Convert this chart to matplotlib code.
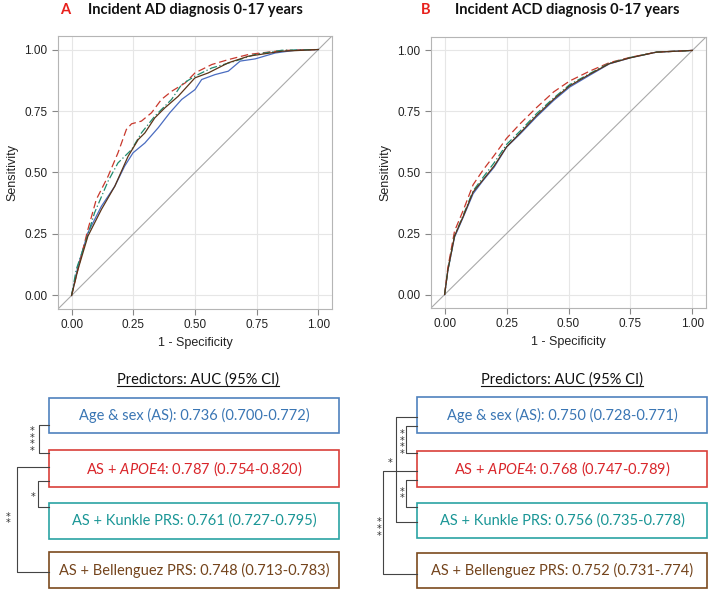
import matplotlib
matplotlib.use("Agg")
import matplotlib.pyplot as plt
from matplotlib.patches import Rectangle

plt.rcParams['font.family'] = ['Liberation Sans', 'DejaVu Sans']
plt.rcParams['mathtext.fontset'] = 'custom'
plt.rcParams['mathtext.rm'] = 'Lato'
plt.rcParams['mathtext.it'] = 'Lato:italic'

# ROC curves, panel A (fpr, tpr)
a_as_fpr = [0, 0.026, 0.066, 0.121, 0.175, 0.215, 0.249, 0.297, 0.351, 0.398, 0.446, 0.5, 0.527, 0.581, 0.635, 0.683, 0.744, 0.825, 0.906, 1]
a_as_tpr = [0, 0.119, 0.255, 0.363, 0.444, 0.526, 0.58, 0.62, 0.682, 0.743, 0.797, 0.837, 0.878, 0.898, 0.912, 0.953, 0.962, 0.986, 0.997, 1]
a_apoe_fpr = [0, 0.019, 0.066, 0.10, 0.148, 0.188, 0.222, 0.243, 0.283, 0.324, 0.364, 0.405, 0.46, 0.5, 0.568, 0.635, 0.717, 0.852, 1]
a_apoe_tpr = [0, 0.079, 0.268, 0.39, 0.485, 0.58, 0.675, 0.698, 0.709, 0.743, 0.797, 0.83, 0.864, 0.905, 0.939, 0.959, 0.98, 0.996, 1]
a_kun_fpr = [0, 0.019, 0.06, 0.093, 0.148, 0.188, 0.243, 0.283, 0.337, 0.405, 0.446, 0.5, 0.568, 0.663, 0.744, 0.852, 1]
a_kun_tpr = [0, 0.106, 0.228, 0.336, 0.465, 0.539, 0.593, 0.661, 0.729, 0.797, 0.858, 0.892, 0.925, 0.953, 0.98, 0.997, 1]
a_bel_fpr = [0, 0.026, 0.066, 0.121, 0.175, 0.229, 0.27, 0.297, 0.337, 0.378, 0.432, 0.5, 0.554, 0.635, 0.717, 0.852, 1]
a_bel_tpr = [0, 0.106, 0.241, 0.35, 0.444, 0.566, 0.634, 0.661, 0.722, 0.763, 0.81, 0.885, 0.905, 0.946, 0.973, 0.993, 1]

# ROC curves, panel B
b_fpr = [0, 0.013, 0.04, 0.075, 0.115, 0.155, 0.2, 0.25, 0.305, 0.37, 0.44, 0.505, 0.585, 0.665, 0.75, 0.855, 1]
b_as_tpr = [0, 0.098, 0.235, 0.317, 0.413, 0.467, 0.522, 0.604, 0.658, 0.727, 0.795, 0.85, 0.898, 0.945, 0.97, 0.993, 1]
b_apoe_tpr = [0, 0.11, 0.26, 0.345, 0.45, 0.51, 0.57, 0.64, 0.70, 0.765, 0.83, 0.875, 0.915, 0.95, 0.972, 0.993, 1]
b_kun_tpr = [0, 0.10, 0.24, 0.325, 0.425, 0.48, 0.54, 0.615, 0.67, 0.74, 0.805, 0.86, 0.905, 0.948, 0.971, 0.993, 1]
b_bel_tpr = [0, 0.10, 0.24, 0.32, 0.42, 0.47, 0.527, 0.605, 0.662, 0.732, 0.80, 0.855, 0.902, 0.946, 0.97, 0.993, 1]

ticks = [0, 0.25, 0.5, 0.75, 1.0]
tick_labels = ["0.00", "0.25", "0.50", "0.75", "1.00"]

labels_a = ["Age & sex (AS): 0.736 (0.700-0.772)",
            r"AS + $\mathit{APOE4}$: 0.787 (0.754-0.820)",
            "AS + Kunkle PRS: 0.761 (0.727-0.795)",
            "AS + Bellenguez PRS: 0.748 (0.713-0.783)"]
labels_b = ["Age & sex (AS): 0.750 (0.728-0.771)",
            r"AS + $\mathit{APOE4}$: 0.768 (0.747-0.789)",
            "AS + Kunkle PRS: 0.756 (0.735-0.778)",
            "AS + Bellenguez PRS: 0.752 (0.731-.774)"]

line_cols = ['#4a6cc0', '#c8382c', '#1f8a6e', '#5a3418']
box_edge = ['#4f81bd', '#d9403a', '#2aa3a3', '#7b4a1e']
box_text = ['#3a76b4', '#d9262b', '#1a9696', '#74441c']

fig = plt.figure(figsize=(7.08, 5.9), dpi=100)


def roc_panel(rect, curves):
    ax = fig.add_axes(rect)
    ax.set_xlim(-0.055, 1.055)
    ax.set_ylim(-0.055, 1.055)
    ax.axline((0, 0), slope=1, color='#aaaaaa', lw=0.8, zorder=1)
    styles = ['-', (0, (6, 3)), (0, (6, 2, 1, 2)), '-']
    for (fx, ty), c, ls in zip(curves, line_cols, styles):
        ax.plot(fx, ty, color=c, ls=ls, lw=0.9, zorder=3)
    ax.set_xticks(ticks)
    ax.set_xticklabels(tick_labels)
    ax.set_yticks(ticks)
    ax.set_yticklabels(tick_labels)
    ax.grid(True, color='#e6e6e6', lw=0.8)
    ax.set_axisbelow(True)
    for s in ax.spines.values():
        s.set_color('#b5b5b5')
    ax.tick_params(colors='#888888', labelcolor='#222222', labelsize=8.5, length=4)
    ax.set_xlabel("1 - Specificity", fontsize=9, color='#222222', labelpad=4)
    ax.set_ylabel("Sensitivity", fontsize=9, color='#222222', labelpad=4)
    return ax


roc_panel([58 / 708, 1 - 309 / 590, 274 / 708, 273 / 590],
          [(a_as_fpr, a_as_tpr), (a_apoe_fpr, a_apoe_tpr), (a_kun_fpr, a_kun_tpr), (a_bel_fpr, a_bel_tpr)])
roc_panel([431 / 708, 1 - 308 / 590, 275 / 708, 271 / 590],
          [(b_fpr, b_as_tpr), (b_fpr, b_apoe_tpr), (b_fpr, b_kun_tpr), (b_fpr, b_bel_tpr)])

# overlay in pixel coordinates for titles, boxes and brackets
ov = fig.add_axes([0, 0, 1, 1])
ov.set_xlim(0, 708)
ov.set_ylim(590, 0)
ov.axis('off')
ov.patch.set_visible(False)

tfont = dict(family=['Lato', 'DejaVu Sans'], fontweight='bold', fontsize=10.5, va='center')
ov.text(60, 10, "A", color='#e8201c', ha='left', **tfont)
ov.text(195, 10, "Incident AD diagnosis 0-17 years", color='#111111', ha='center', **tfont)
ov.text(421, 10, "B", color='#e8201c', ha='left', **tfont)
ov.text(567, 10, "Incident ACD diagnosis 0-17 years", color='#111111', ha='center', **tfont)


def box_panel(x0, x1, ys, labels, head_x, brackets):
    t = ov.text(head_x, 380, "Predictors: AUC (95% CI)", family=['Lato', 'DejaVu Sans'],
                fontsize=10.5, ha='center', va='center', color='#111111')
    t._underline = True
    for (y0, y1), lab, ec, tc in zip(ys, labels, box_edge, box_text):
        ov.add_patch(Rectangle((x0, y0), x1 - x0, y1 - y0, fill=False, ec=ec, lw=1.2))
        ov.text((x0 + x1) / 2, (y0 + y1) / 2, lab, family=['Lato', 'DejaVu Sans'],
                fontsize=10.5, color=tc, ha='center', va='center')
    for bx, ya, yb, n, sx, sy in brackets:
        ov.plot([x0, bx, bx, x0], [ya, ya, yb, yb], color='#444444', lw=0.8)
        ov.text(sx, sy, "\n".join(["*"] * n), fontsize=7, linespacing=0.62,
                ha='center', va='center', color='#333333', family='DejaVu Sans')


box_panel(49, 339, [(398, 433), (450, 487), (503, 539), (552, 588)], labels_a, 198,
          [(39, 425, 453, 4, 32, 441),
           (38, 481, 507, 1, 33, 497),
           (17, 467, 572, 2, 8, 520)])
box_panel(417, 707, [(397, 433), (451, 487), (503, 538), (553, 588)], labels_b, 562,
          [(406, 426, 453, 4, 402, 444),
           (406, 480, 507, 2, 402, 495),
           (396, 417, 522, 1, 390, 463),
           (383, 471, 574, 3, 379, 529)])

# underline the two headers
fig.canvas.draw()
r = fig.canvas.get_renderer()
for t in ov.texts:
    if getattr(t, '_underline', False):
        bb = t.get_window_extent(r).transformed(ov.transData.inverted())
        ov.plot([bb.x0, bb.x1], [bb.y0 - 1, bb.y0 - 1], color='#111111', lw=0.8)

fig.savefig("out.png", dpi=100)
